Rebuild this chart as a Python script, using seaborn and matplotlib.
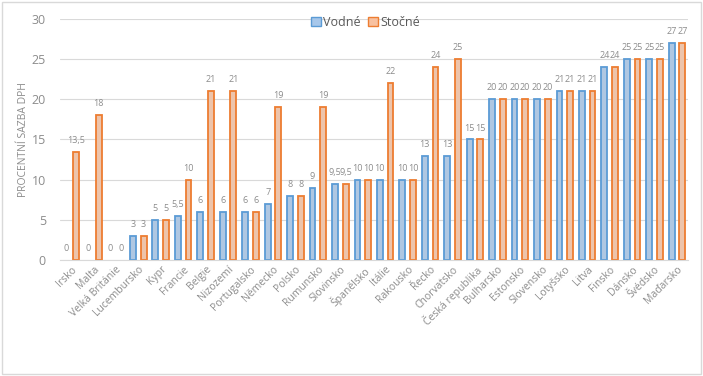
import matplotlib
matplotlib.use("Agg")
import matplotlib.pyplot as plt
import seaborn as sns
import pandas as pd
from matplotlib.patches import Patch, Rectangle

countries = ["Irsko", "Malta", "Velká Británie", "Lucembursko", "Kypr", "Francie", "Belgie",
             "Nizozemí", "Portugalsko", "Německo", "Polsko", "Rumunsko", "Slovinsko", "Španělsko",
             "Itálie", "Rakousko", "Řecko", "Chorvatsko", "Česká republika", "Bulharsko",
             "Estonsko", "Slovensko", "Lotyšsko", "Litva", "Finsko", "Dánsko", "Švédsko", "Maďarsko"]
vodne = [0, 0, 0, 3, 5, 5.5, 6, 6, 6, 7, 8, 9, 9.5, 10, 10, 10, 13, 13, 15, 20, 20, 20, 21, 21, 24, 25, 25, 27]
stocne = [13.5, 18, 0, 3, 5, 10, 21, 21, 6, 19, 8, 19, 9.5, 10, 22, 10, 24, 25, 15, 20, 20, 20, 21, 21, 24, 25, 25, 27]
series = ["Vodné", "Stočné"]

df = pd.DataFrame({
    "Země": countries * 2,
    "Sazba": vodne + stocne,
    "Typ": [series[0]] * len(countries) + [series[1]] * len(countries),
})

sns.set_style("white")
plt.rcParams["font.family"] = ["Open Sans", "DejaVu Sans"]

face = {"Vodné": "#A7C7EA", "Stočné": "#F8C1A0"}
edge = {"Vodné": "#5B9BD5", "Stočné": "#ED7D31"}

fig = plt.figure(figsize=(7.03, 3.76), dpi=100)
ax = fig.add_axes([0.085, 0.309, 0.894, 0.64])
sns.barplot(data=df, x="Země", y="Sazba", hue="Typ", order=countries, hue_order=series,
            palette=face, width=0.95, gap=0.45, ax=ax, legend=False)
for cont, s in zip(ax.containers, series):
    for p in cont:
        p.set_edgecolor(edge[s])
        p.set_linewidth(1.3 if p.get_height() > 0 else 0)
    labels = [("%g" % v).replace(".", ",") for v in (vodne if s == "Vodné" else stocne)]
    ax.bar_label(cont, labels=labels, padding=5, fontsize=6.5, color="#8C8C8C")

ax.set_ylim(0, 30)
ax.set_yticks([0, 5, 10, 15, 20, 25, 30])
ax.yaxis.grid(True, color="#D9D9D9", linewidth=0.8)
ax.set_axisbelow(True)
for sp in ["top", "right", "left"]:
    ax.spines[sp].set_visible(False)
ax.spines["bottom"].set_color("#D9D9D9")
ax.tick_params(axis="y", length=0, colors="#8C8C8C", labelsize=9, pad=10)
ax.tick_params(axis="x", length=0, colors="#8C8C8C", labelsize=7.5, pad=3)
plt.setp(ax.get_xticklabels(), rotation=45, ha="right", rotation_mode="anchor")
ax.set_xlabel("")
ax.set_ylabel("PROCENTNÍ SAZBA DPH", color="#8C8C8C", fontsize=7.5, labelpad=2)
ax.set_xlim(-0.5, len(countries) - 0.5)

handles = [Patch(facecolor=face[s], edgecolor=edge[s], label=s) for s in series]
fig.legend(handles=handles, loc="center", bbox_to_anchor=(0.52, 0.94), ncol=2, frameon=False,
           fontsize=9, labelcolor="#595959", handlelength=0.8, handleheight=0.8,
           handletextpad=0.2, columnspacing=0.6)

fig.patches.append(Rectangle((0.003, 0.004), 0.994, 0.99, transform=fig.transFigure,
                             fill=False, edgecolor="#D9D9D9", linewidth=1.0))
fig.savefig("out.png", dpi=100)
